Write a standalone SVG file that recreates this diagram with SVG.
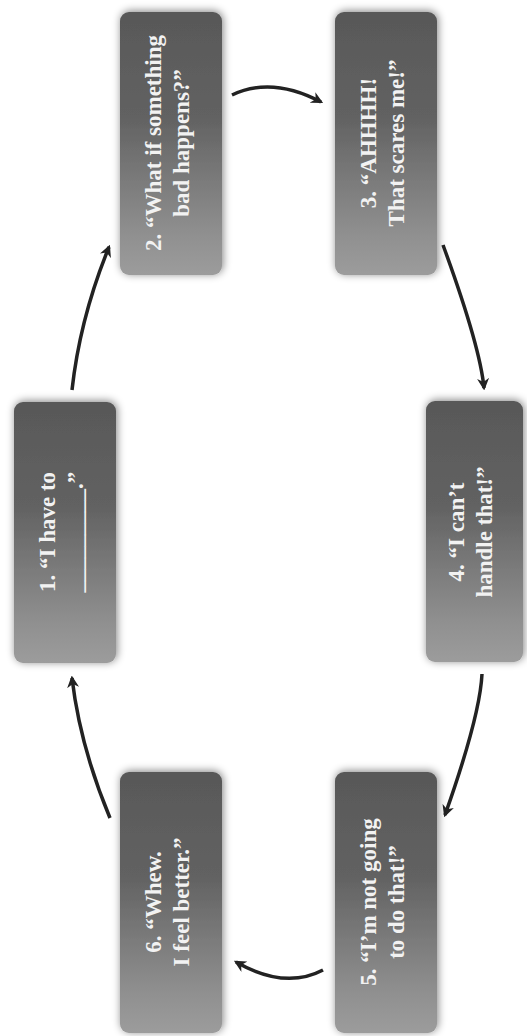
<svg xmlns="http://www.w3.org/2000/svg" width="527" height="1036" viewBox="0 0 527 1036">
  <style>
    .box { fill: url(#boxGrad); filter: url(#shadow); }
    .lbl { font-family: "Liberation Serif", "DejaVu Serif", serif; font-weight: bold; font-size: 23px; fill: #f2f2f2; text-anchor: middle; }
    .conn { fill: none; stroke: #222222; stroke-width: 3.5; marker-end: url(#arrow); }
  </style>
  <defs>
    <linearGradient id="boxGrad" x1="0" y1="0" x2="0" y2="1">
      <stop offset="0" stop-color="#585858"/>
      <stop offset="0.4" stop-color="#626262"/>
      <stop offset="0.85" stop-color="#909090"/>
      <stop offset="1" stop-color="#9c9c9c"/>
    </linearGradient>
    <filter id="shadow" x="-20%" y="-10%" width="140%" height="120%">
      <feGaussianBlur in="SourceAlpha" stdDeviation="4"/>
      <feOffset dx="1" dy="-1" result="b"/>
      <feComponentTransfer>
        <feFuncA type="linear" slope="0.5"/>
      </feComponentTransfer>
      <feMerge>
        <feMergeNode/>
        <feMergeNode in="SourceGraphic"/>
      </feMerge>
    </filter>
    <marker id="arrow" viewBox="0 0 10 10" refX="8" refY="5" markerWidth="12" markerHeight="12" markerUnits="userSpaceOnUse" orient="auto">
      <path d="M0,0 L10,5 L0,10 L3,5 Z" fill="#222222"/>
    </marker>
  </defs>
  <rect width="527" height="1036" fill="#ffffff"/>

  <g id="connectors">
    <path class="conn" d="M72,390 Q80,318 109,247"/>
    <path class="conn" d="M232,95 Q272,76 321,102"/>
    <path class="conn" d="M443,245 Q480,346 484,388"/>
    <path class="conn" d="M482,674 Q480,716 445,815"/>
    <path class="conn" d="M323,970 Q285,990 236,962"/>
    <path class="conn" d="M110,818 Q80,746 72,678"/>
  </g>

  <g id="node1">
    <rect class="box" x="14" y="402" width="102" height="261" rx="9"/>
    <text class="lbl" transform="translate(65,532) rotate(-90)"><tspan x="0" y="-10">1. “I have to</tspan><tspan x="0" y="18">_________.”</tspan></text>
  </g>
  <g id="node2">
    <rect class="box" x="120" y="12" width="102" height="263" rx="9"/>
    <text class="lbl" transform="translate(171,143) rotate(-90)"><tspan x="0" y="-10">2. “What if something</tspan><tspan x="0" y="18">bad happens?”</tspan></text>
  </g>
  <g id="node3">
    <rect class="box" x="335" y="12" width="102" height="263" rx="9"/>
    <text class="lbl" transform="translate(386,143) rotate(-90)"><tspan x="0" y="-10">3. “AHHHH!</tspan><tspan x="0" y="18">That scares me!”</tspan></text>
  </g>
  <g id="node4">
    <rect class="box" x="426" y="401" width="97" height="261" rx="9"/>
    <text class="lbl" transform="translate(474,532) rotate(-90)"><tspan x="0" y="-10">4. “I can’t</tspan><tspan x="0" y="18">handle that!”</tspan></text>
  </g>
  <g id="node5">
    <rect class="box" x="335" y="772" width="102" height="261" rx="9"/>
    <text class="lbl" transform="translate(386,902) rotate(-90)"><tspan x="0" y="-10">5. “I’m not going</tspan><tspan x="0" y="18">to do that!”</tspan></text>
  </g>
  <g id="node6">
    <rect class="box" x="120" y="772" width="102" height="261" rx="9"/>
    <text class="lbl" transform="translate(171,902) rotate(-90)"><tspan x="0" y="-10">6. “Whew.</tspan><tspan x="0" y="18">I feel better.”</tspan></text>
  </g>
</svg>
